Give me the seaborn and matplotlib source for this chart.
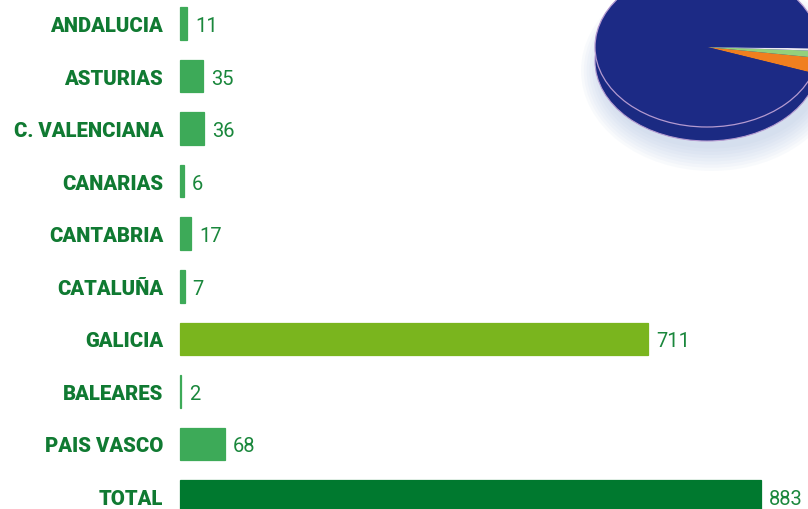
import matplotlib
matplotlib.use("Agg")
import matplotlib.pyplot as plt
from matplotlib.patches import Ellipse, Rectangle
import seaborn as sns

# ---- data ----
regions = ["ANDALUCIA", "ASTURIAS", "C. VALENCIANA", "CANARIAS", "CANTABRIA",
           "CATALUÑA", "GALICIA", "BALEARES", "PAIS VASCO", "TOTAL"]
counts = [11, 35, 36, 6, 17, 7, 711, 2, 68, 883]
bar_colors = ["#3daa58"] * 6 + ["#7ab51e", "#3daa58", "#3daa58", "#00792f"]

# decorative pie (approximate shares)
pie_values = [3.1, 1.4, 0.5, 95.0]
pie_colors = ["#f07f1f", "#94d07c", "#ece8f2", "#1c2a85"]

sns.set_theme(style="white")
plt.rcParams["font.family"] = ["Roboto", "DejaVu Sans"]

fig = plt.figure(figsize=(8.08, 5.10), dpi=100)
fig.patch.set_facecolor("white")
ax = fig.add_axes([0, 0, 1, 1])

sns.barplot(x=counts, y=regions, hue=regions, palette=bar_colors, legend=False,
            orient="h", width=0.62, saturation=1, ax=ax)
for p in ax.patches:
    p.set_edgecolor(p.get_facecolor())
    p.set_linewidth(0.9)

px_per_unit = 581 / 883
ax.set_xlim(-180 / px_per_unit, (808 - 180) / px_per_unit)
row = 52.56
ax.set_ylim((510 - 24.5) / row, -24.5 / row)
ax.axis("off")

label_color = "#107a32"
value_color = "#1a873c"
pt = 0.72  # points per pixel at 100 dpi
for i, (name, v) in enumerate(zip(regions, counts)):
    ax.annotate(name, xy=(0, i), xytext=(-17 * pt, -7.5 * pt), textcoords="offset points",
                ha="right", va="baseline", fontsize=14.6, fontweight="heavy",
                color=label_color)
    ax.annotate(str(v), xy=(v, i), xytext=(8 * pt, -7.5 * pt), textcoords="offset points",
                ha="left", va="baseline", fontsize=14.5, fontweight="normal",
                color=value_color)

# ---- pie in the top-right corner ----
cx, cy = 707, 48          # pixel centre of the top face
rx, ry = 112, 80          # pixel radii
x0, x1, y0, y1 = -1.4, 1.4, -1.6, 1.3
left = (cx + x0 * rx) / 808
bottom = 1 - (cy - y0 * ry) / 510
w = (x1 - x0) * rx / 808
h = (y1 - y0) * ry / 510
pax = fig.add_axes([left, bottom, w, h])
pax.set_facecolor("none")

thick = 14 / ry
# soft shadow
for k in range(8):
    pax.add_patch(Ellipse((0.04, -thick - 0.12), 1.98 + 0.05 * k, 1.95 + 0.08 * k,
                          color="#a9bde0", alpha=0.07, lw=0, zorder=0))
# side of the disc
pax.add_patch(Ellipse((0, -thick), 2, 2, color="#1b2a82", lw=0, zorder=1))
pax.add_patch(Rectangle((-1, -thick), 2, thick, color="#1b2a82", lw=0, zorder=1))
pax.add_patch(Ellipse((0, -thick), 2, 2, fill=False, ec="#b49ad0", lw=0.8, zorder=1.5))

wedges, _ = pax.pie(pie_values, colors=pie_colors, startangle=-19, counterclock=True,
                    radius=1, center=(0, 0), wedgeprops=dict(linewidth=0))
for wd in wedges:
    wd.set_zorder(2)
pax.add_patch(Ellipse((0, 0), 2, 2, fill=False, ec="#b49ad0", lw=0.9, zorder=3))

pax.set_aspect("auto")
pax.set_xlim(x0, x1)
pax.set_ylim(y0, y1)
pax.axis("off")

fig.savefig("out.png", dpi=100, facecolor="white")
